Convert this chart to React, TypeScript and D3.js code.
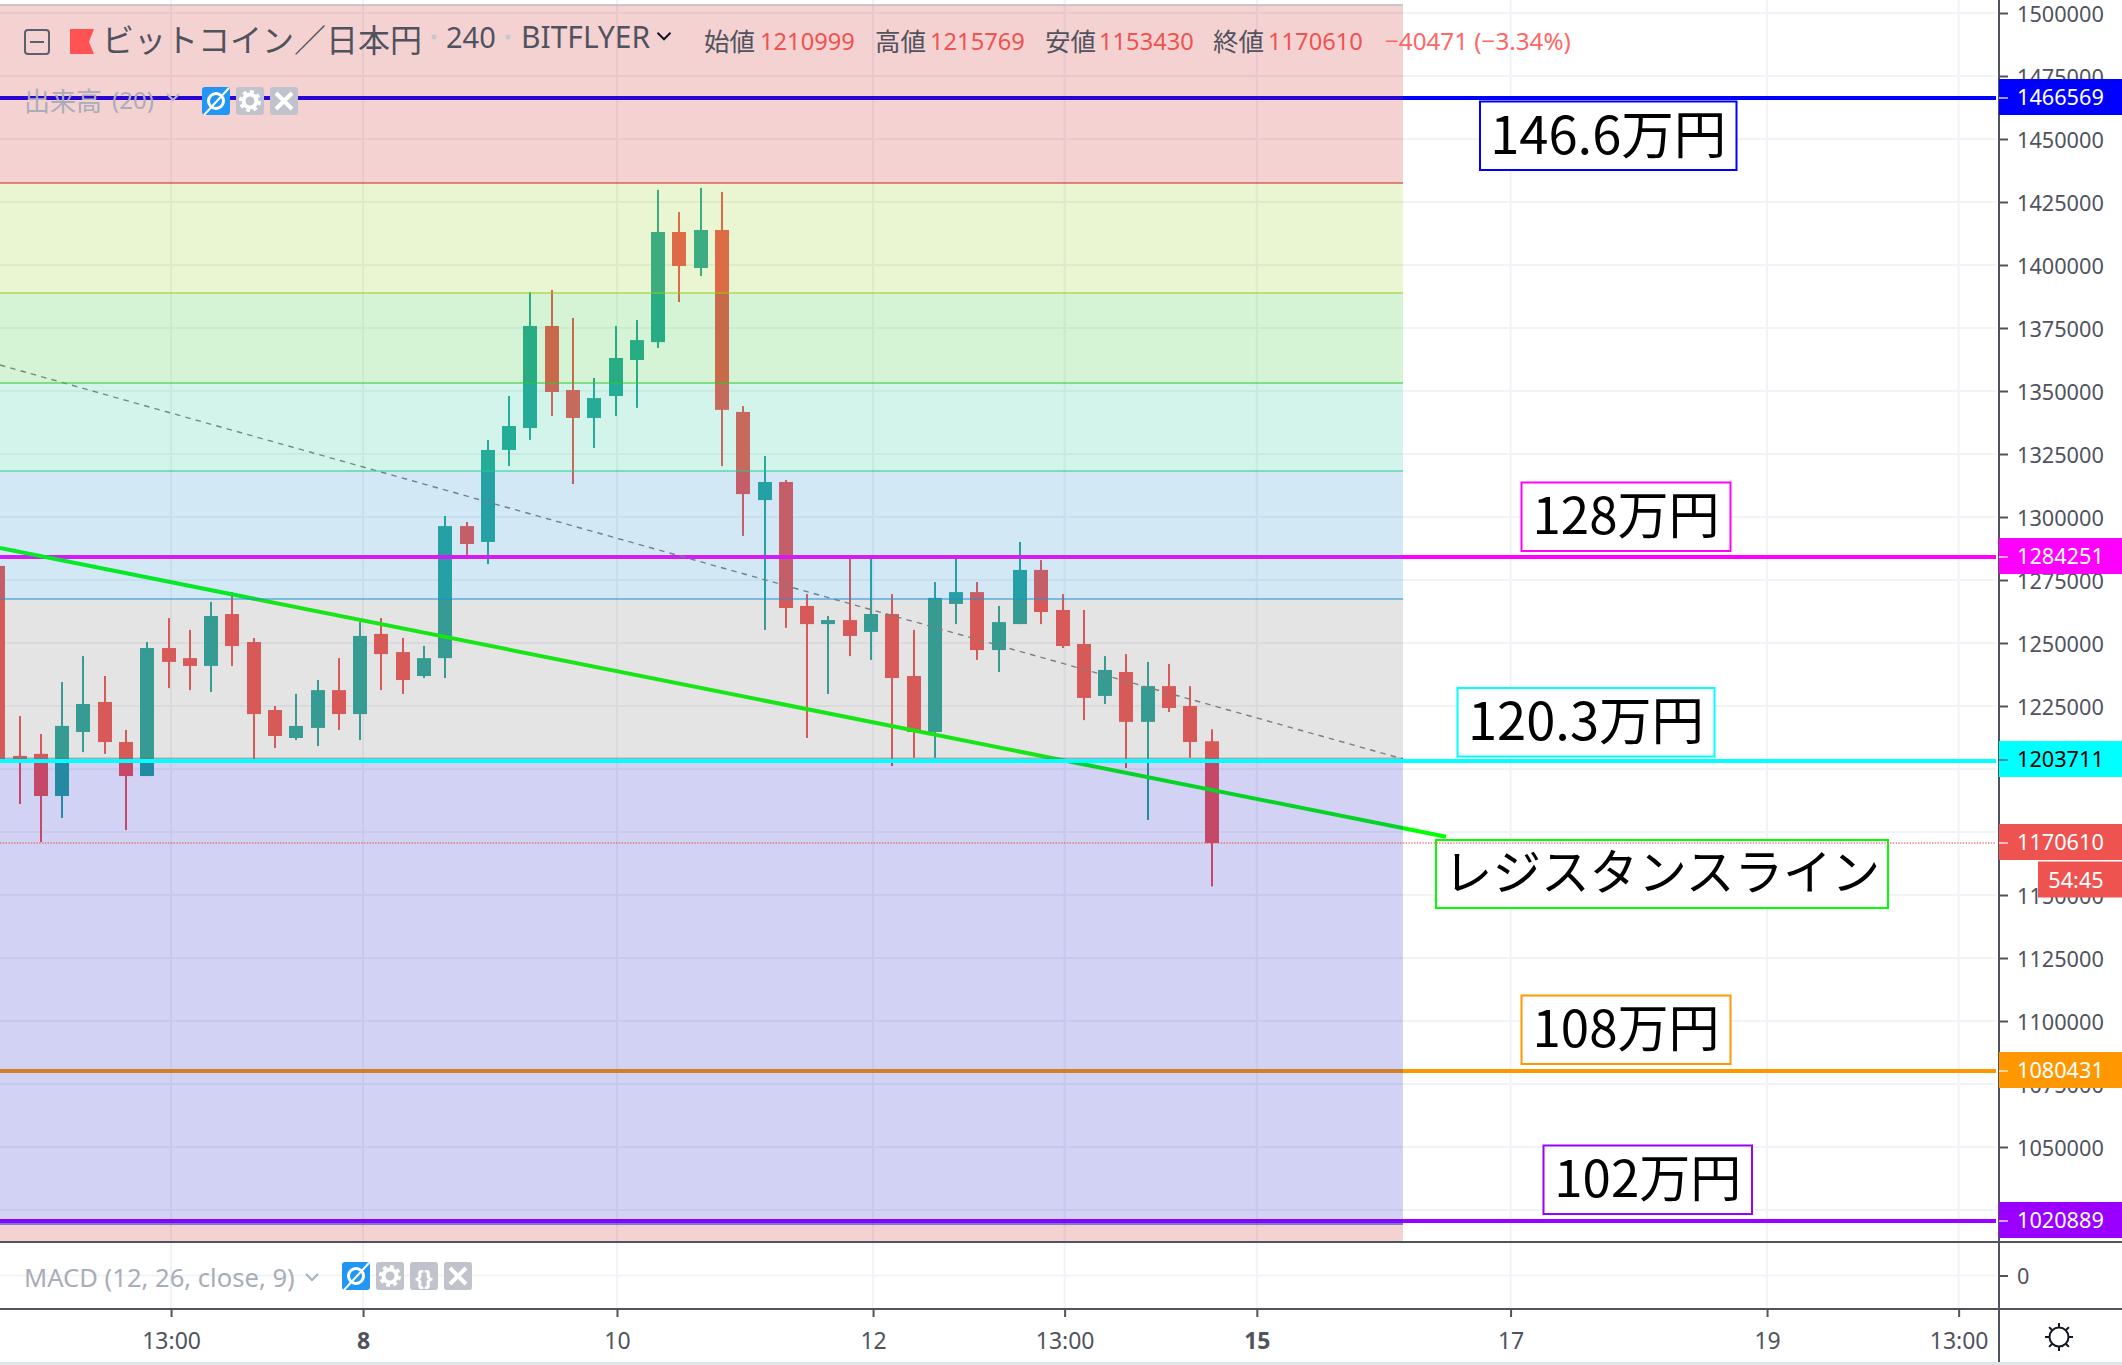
import React, { useRef, useEffect } from "react";
import * as d3 from "d3";

const WIDTH = 2122;
const HEIGHT = 1365;

// 4h candles, first one is cut off by the left edge
const candleOpen = [1280600, 1205200, 1206000, 1189300, 1214700, 1226600, 1210700, 1197200, 1248000, 1244000, 1240900, 1261500, 1250400, 1223400, 1212300, 1216300, 1231300, 1221800, 1253600, 1246400, 1236900, 1244000, 1296400, 1290100, 1326600, 1335300, 1375800, 1350400, 1339300, 1348000, 1362300, 1369400, 1413100, 1398800, 1413900, 1341700, 1306700, 1313900, 1264700, 1257500, 1259100, 1254400, 1261500, 1236900, 1214700, 1265500, 1270200, 1247200, 1257500, 1279000, 1263100, 1249600, 1229000, 1238500, 1218700, 1232900, 1225000, 1210999];
const candleHigh = [1280600, 1221000, 1213900, 1234500, 1244800, 1236900, 1215500, 1250400, 1259900, 1255200, 1266300, 1270200, 1252000, 1225000, 1229800, 1235300, 1244000, 1258300, 1259900, 1252000, 1248800, 1300400, 1298000, 1330600, 1348000, 1389300, 1390100, 1379000, 1355200, 1375800, 1378200, 1429800, 1421000, 1430600, 1429000, 1344000, 1324200, 1314700, 1269400, 1260700, 1284100, 1284100, 1269400, 1255200, 1274200, 1284100, 1274200, 1264700, 1290100, 1282900, 1269400, 1263100, 1244800, 1245600, 1242500, 1241700, 1232900, 1215769];
const candleLow = [1203600, 1186100, 1171000, 1180600, 1206700, 1206000, 1175800, 1197200, 1232100, 1231300, 1230600, 1240900, 1204000, 1208300, 1211500, 1209100, 1215500, 1211500, 1231300, 1229800, 1236100, 1236100, 1284100, 1281300, 1320200, 1330600, 1340100, 1313100, 1327400, 1340100, 1343300, 1367100, 1385300, 1395600, 1320200, 1292500, 1255200, 1256000, 1212300, 1229800, 1244800, 1243300, 1201200, 1204400, 1204400, 1257500, 1243300, 1238500, 1257500, 1257500, 1248000, 1219400, 1225800, 1200400, 1179800, 1222600, 1204400, 1153430];
const candleClose = [1203600, 1203600, 1189300, 1217100, 1225800, 1210700, 1197200, 1248000, 1242500, 1240900, 1260700, 1248800, 1221800, 1213100, 1217100, 1231300, 1221800, 1252800, 1245600, 1235300, 1244000, 1296400, 1289300, 1326600, 1336100, 1375800, 1349600, 1339300, 1347200, 1363100, 1370200, 1413100, 1399600, 1413900, 1342500, 1309100, 1313900, 1263900, 1257500, 1259100, 1252800, 1261500, 1236100, 1214700, 1267900, 1270200, 1247200, 1258300, 1279000, 1262300, 1248800, 1228200, 1239300, 1218700, 1232900, 1224200, 1210700, 1170610];

// fib zones, top to bottom
const zoneEdges = [1503175, 1432540, 1388889, 1353175, 1318254, 1267460, 1204167, 1019437, 1012302];
const zoneColors = ["rgb(205,30,30)", "rgb(150,205,30)", "rgb(45,200,45)", "rgb(35,200,150)", "rgb(35,140,205)", "rgb(120,120,120)", "rgb(30,30,200)", "rgb(205,30,30)"];

const priceTicks = [1500000, 1475000, 1450000, 1425000, 1400000, 1375000, 1350000, 1325000, 1300000, 1275000, 1250000, 1225000, 1200000, 1175000, 1150000, 1125000, 1100000, 1075000, 1050000, 1025000];
// these ones are fully covered by the price tags
const hiddenPriceTicks = [1200000, 1175000, 1025000];

const timeTickBars = [8.12, 17.14, 29.07, 41.1, 50.1, 59.13, 71.05, 83.1, 92.1];
const timeTickLabels = ["13:00", "8", "10", "12", "13:00", "15", "17", "19", "13:00"];
const boldTimeTicks = ["8", "15"];

const levelPrices = [1466569, 1284251, 1203711, 1080431, 1020889];
const levelColors = ["#0000ff", "#ff00ff", "#00ffff", "#ff9800", "#9900ff"];
const lastClose = 1170610;

const trendBars = [0.08, 68.02];
const trendPrices = [1287699, 1173134];
const dashBars = [0.08, 66];
const dashPrices = [1360318, 1203969];

const noteLabels = ["146.6万円", "128万円", "120.3万円", "レジスタンスライン", "108万円", "102万円"];
const noteColors = ["#0000ff", "#ff00ff", "#00ffff", "#00ff00", "#ff9800", "#9900ff"];

const ohlcLabels = ["始値", "高値", "安値", "終値"];
const ohlcValues = ["1210999", "1215769", "1153430", "1170610"];

const LATIN = "'Noto Sans', sans-serif";
const CJK = "'Noto Sans CJK JP', sans-serif";
const TEXT_COLOR = "#50535e";
const AXIS_COLOR = "#50535e";
const GRID_COLOR = "#f0f3f7";
const UP = "#26a69a";
const DOWN = "#ef5350";
const RIGHT_EDGE = 1999;
const LINE_END = 1996;
const ZONE_END = 1403;
const MAIN_BOTTOM = 1242;
const TIME_TOP = 1309;

export default function App() {
  const svgRef = useRef<SVGSVGElement>(null);

  useEffect(() => {
    if (!svgRef.current) return;

    const svg = d3.select(svgRef.current);
    svg.selectAll("*").remove();

    const x = d3.scaleLinear().domain([1, 57]).range([19.5, 1211.5]);
    const y = d3.scaleLinear().domain([1500000, 1050000]).range([13, 1147]);
    const macdY = d3.scaleLinear().domain([1, -1]).range([MAIN_BOTTOM, TIME_TOP]);
    // level lines sit on whole pixels
    const levelY = (price: number) => Math.ceil(y(price)) + (price === 1203711 ? 1 : 0);

    svg.append("rect").attr("width", WIDTH).attr("height", HEIGHT).attr("fill", "#fff");

    // Grid
    const grid = svg.append("g").attr("stroke", GRID_COLOR).attr("stroke-width", 2);
    grid.selectAll("line.h")
      .data(priceTicks)
      .enter()
      .append("line")
      .attr("x1", 0)
      .attr("x2", LINE_END)
      .attr("y1", d => y(d))
      .attr("y2", d => y(d));
    grid.append("line")
      .attr("x1", 0)
      .attr("x2", LINE_END)
      .attr("y1", macdY(0))
      .attr("y2", macdY(0));
    grid.selectAll("line.v")
      .data(timeTickBars)
      .enter()
      .append("line")
      .attr("x1", d => x(d))
      .attr("x2", d => x(d))
      .attr("y1", 0)
      .attr("y2", TIME_TOP);

    // Candles
    const candles = svg.selectAll("g.candle")
      .data(candleOpen.map((open, i) => ({
        bar: i,
        open,
        high: candleHigh[i],
        low: candleLow[i],
        close: candleClose[i]
      })))
      .enter()
      .append("g")
      .attr("class", "candle")
      .attr("fill", d => (d.close >= d.open ? UP : DOWN));
    candles.append("rect")
      .attr("x", d => Math.round(x(d.bar)) - 1)
      .attr("width", 2)
      .attr("y", d => y(d.high))
      .attr("height", d => y(d.low) - y(d.high));
    candles.append("rect")
      .attr("x", d => Math.round(x(d.bar)) - 7)
      .attr("width", 14)
      .attr("y", d => y(Math.max(d.open, d.close)))
      .attr("height", d => Math.max(1, y(Math.min(d.open, d.close)) - y(Math.max(d.open, d.close))));

    // Horizontal levels except the cyan one sit under the zones
    svg.selectAll("line.level")
      .data(levelPrices.filter(d => d !== 1203711))
      .enter()
      .append("line")
      .attr("class", "level")
      .attr("x1", 0)
      .attr("x2", LINE_END)
      .attr("y1", d => levelY(d))
      .attr("y2", d => levelY(d))
      .attr("stroke", d => levelColors[levelPrices.indexOf(d)])
      .attr("stroke-width", 4);

    const trend = d3.line<number>()
      .x((d, i) => x(d))
      .y((d, i) => y(trendPrices[i]));
    svg.append("path")
      .attr("d", trend(trendBars))
      .attr("fill", "none")
      .attr("stroke", "#00ff00")
      .attr("stroke-width", 4);

    const dashed = d3.line<number>()
      .x((d, i) => x(d))
      .y((d, i) => y(dashPrices[i]));
    svg.append("path")
      .attr("d", dashed(dashBars))
      .attr("fill", "none")
      .attr("stroke", "#808080")
      .attr("stroke-width", 1.4)
      .attr("stroke-dasharray", "5.5 5.2");

    // Fib zones laid over everything drawn so far
    const zones = svg.append("g");
    zones.selectAll("rect")
      .data(zoneColors)
      .enter()
      .append("rect")
      .attr("x", 0)
      .attr("width", ZONE_END)
      .attr("y", (d, i) => y(zoneEdges[i]))
      .attr("height", (d, i) => y(zoneEdges[i + 1]) - y(zoneEdges[i]))
      .attr("fill", d => d)
      .attr("fill-opacity", 0.2);
    zones.selectAll("line")
      .data(zoneColors.slice(0, 7))
      .enter()
      .append("line")
      .attr("x1", 0)
      .attr("x2", ZONE_END)
      .attr("y1", (d, i) => y(zoneEdges[i + 1]))
      .attr("y2", (d, i) => y(zoneEdges[i + 1]))
      .attr("stroke", d => d)
      .attr("stroke-opacity", 0.5)
      .attr("stroke-width", 2);
    svg.append("line")
      .attr("x1", 0)
      .attr("x2", ZONE_END)
      .attr("y1", 5)
      .attr("y2", 5)
      .attr("stroke", "#bbb")
      .attr("stroke-width", 1.5);

    svg.append("line")
      .attr("x1", 0)
      .attr("x2", LINE_END)
      .attr("y1", levelY(levelPrices[2]))
      .attr("y2", levelY(levelPrices[2]))
      .attr("stroke", levelColors[2])
      .attr("stroke-width", 4);

    // Note boxes
    const noteBoxes = [
      [1480, 101.5, 256.5, 68.5],
      [1521.5, 482.5, 209, 68.5],
      [1457.5, 688, 257, 68.5],
      [1436, 840, 452, 68],
      [1521.5, 995.5, 209, 68.5],
      [1543.5, 1145.5, 208.5, 68.5]
    ];
    const noteSizes = [52.5, 51, 52.5, 48.6, 51, 51];
    const notes = svg.selectAll("g.note")
      .data(noteLabels)
      .enter()
      .append("g")
      .attr("class", "note");
    notes.append("rect")
      .attr("x", (d, i) => noteBoxes[i][0])
      .attr("y", (d, i) => noteBoxes[i][1])
      .attr("width", (d, i) => noteBoxes[i][2])
      .attr("height", (d, i) => noteBoxes[i][3])
      .attr("fill", "#fff")
      .attr("stroke", (d, i) => noteColors[i])
      .attr("stroke-width", 2);
    notes.append("text")
      .attr("x", (d, i) => noteBoxes[i][0] + noteBoxes[i][2] / 2)
      .attr("y", (d, i) => noteBoxes[i][1] + noteBoxes[i][3] / 2 - 5)
      .attr("text-anchor", "middle")
      .attr("dominant-baseline", "central")
      .style("font-family", CJK)
      .style("font-size", (d, i) => `${noteSizes[i]}px`)
      .attr("fill", "#000")
      .text(d => d);

    // Last price line, dotted
    svg.append("line")
      .attr("x1", 0)
      .attr("x2", LINE_END)
      .attr("y1", y(lastClose))
      .attr("y2", y(lastClose))
      .attr("stroke", DOWN)
      .attr("stroke-opacity", 0.75)
      .attr("stroke-width", 1.4)
      .attr("stroke-dasharray", "1.4 1.4");

    // Price axis
    const priceAxis = svg.append("g")
      .attr("transform", `translate(${RIGHT_EDGE},0)`)
      .call(d3.axisRight(y)
        .tickValues(priceTicks)
        .tickSize(9)
        .tickPadding(9)
        .tickFormat(d => (hiddenPriceTicks.includes(+d) ? "" : d3.format("d")(d))));
    priceAxis.select(".domain").remove();
    const macdAxis = svg.append("g")
      .attr("transform", `translate(${RIGHT_EDGE},0)`)
      .call(d3.axisRight(macdY).tickValues([0]).tickSize(9).tickPadding(9).tickFormat(d3.format("d")));
    macdAxis.select(".domain").remove();
    [priceAxis, macdAxis].forEach(a => {
      a.attr("font-family", null).attr("font-size", null);
      a.selectAll("line").attr("stroke", AXIS_COLOR).attr("stroke-width", 2);
      a.selectAll("text")
        .attr("dy", "0.38em")
        .style("font-family", LATIN)
        .style("font-size", "21.7px")
        .attr("fill", TEXT_COLOR);
    });

    // Time axis
    const timeAxis = svg.append("g")
      .attr("transform", `translate(0,${TIME_TOP})`)
      .call(d3.axisBottom(x)
        .tickValues(timeTickBars)
        .tickSize(8)
        .tickPadding(16)
        .tickFormat((d, i) => timeTickLabels[i]));
    timeAxis.select(".domain").remove();
    timeAxis.attr("font-family", null).attr("font-size", null);
    timeAxis.selectAll("line").attr("stroke", AXIS_COLOR).attr("stroke-width", 2);
    timeAxis.selectAll("text")
      .style("font-family", LATIN)
      .style("font-size", "23px")
      .style("font-weight", (d, i) => (boldTimeTicks.includes(timeTickLabels[i]) ? "700" : "400"))
      .attr("fill", TEXT_COLOR);

    // Pane borders
    const borders = svg.append("g").attr("stroke", AXIS_COLOR).attr("stroke-width", 2);
    borders.append("line").attr("x1", 0).attr("x2", WIDTH).attr("y1", MAIN_BOTTOM).attr("y2", MAIN_BOTTOM);
    borders.append("line").attr("x1", 0).attr("x2", WIDTH).attr("y1", TIME_TOP).attr("y2", TIME_TOP);
    borders.append("line").attr("x1", RIGHT_EDGE).attr("x2", RIGHT_EDGE).attr("y1", 0).attr("y2", 1362);
    svg.append("rect").attr("x", 0).attr("y", 1362).attr("width", WIDTH).attr("height", 3).attr("fill", "#e0e3eb");

    // Price tags
    const tagValues = [...levelPrices, lastClose];
    const tagColors = [...levelColors, "#ef5350"];
    const tags = svg.selectAll("g.tag")
      .data(tagValues)
      .enter()
      .append("g")
      .attr("class", "tag")
      .attr("transform", d => `translate(${RIGHT_EDGE},${d === lastClose ? 842 : Math.ceil(y(d)) - 1})`);
    tags.append("rect")
      .attr("x", 0)
      .attr("y", -18)
      .attr("width", WIDTH - RIGHT_EDGE)
      .attr("height", 36)
      .attr("fill", (d, i) => tagColors[i]);
    tags.append("line")
      .attr("x1", 0)
      .attr("x2", 9)
      .attr("y1", 1)
      .attr("y2", 1)
      .attr("stroke", (d, i) => (i === 2 ? AXIS_COLOR : "#fff"))
      .attr("stroke-opacity", 0.6)
      .attr("stroke-width", 2);
    tags.append("text")
      .attr("x", 18)
      .attr("dy", "0.35em")
      .style("font-family", LATIN)
      .style("font-size", "21.7px")
      .attr("fill", (d, i) => (i === 2 ? "#000" : "#fff"))
      .text(d => d3.format("d")(d));

    svg.append("rect")
      .attr("x", 2038)
      .attr("y", 861.5)
      .attr("width", WIDTH - 2038)
      .attr("height", 36)
      .attr("fill", "#ef5350");
    svg.append("text")
      .attr("x", 2076)
      .attr("y", 880)
      .attr("dy", "0.35em")
      .attr("text-anchor", "middle")
      .style("font-family", LATIN)
      .style("font-size", "21.7px")
      .attr("fill", "#fff")
      .text("54:45");

    // Legend header
    const header = svg.append("g");
    header.append("rect")
      .attr("x", 25)
      .attr("y", 30)
      .attr("width", 24)
      .attr("height", 24)
      .attr("rx", 3)
      .attr("fill", "none")
      .attr("stroke", "#5d606b")
      .attr("stroke-width", 2);
    header.append("line")
      .attr("x1", 30)
      .attr("x2", 44)
      .attr("y1", 42)
      .attr("y2", 42)
      .attr("stroke", "#5d606b")
      .attr("stroke-width", 2);
    header.append("path").attr("d", "M70,29H94L89,42L94,54H70Z").attr("fill", "#ff5252");

    const addText = (
      label: string,
      px: number,
      py: number,
      size: number,
      color: string,
      family: string
    ) =>
      header.append("text")
        .attr("x", px)
        .attr("y", py)
        .attr("dominant-baseline", "central")
        .style("font-family", family)
        .style("font-size", `${size}px`)
        .attr("fill", color)
        .text(label);

    addText("ビットコイン／日本円", 102, 38, 32, TEXT_COLOR, CJK);
    addText("240", 446, 36, 29, TEXT_COLOR, LATIN);
    addText("BITFLYER", 521, 36, 30, TEXT_COLOR, LATIN);
    header.selectAll("circle.dot")
      .data([434, 508])
      .enter()
      .append("circle")
      .attr("cx", d => d)
      .attr("cy", 37)
      .attr("r", 2.5)
      .attr("fill", "#c4c8d2");

    const chevron = (cx: number, cy: number, color: string, half: number) =>
      header.append("path")
        .attr("d", `M${cx - half},${cy - half / 2}L${cx},${cy + half / 2}L${cx + half},${cy - half / 2}`)
        .attr("fill", "none")
        .attr("stroke", color)
        .attr("stroke-width", 2);
    chevron(664, 36, "#131722", 6.5);

    const labelX = [704, 875, 1045, 1213];
    const valueX = [760, 930, 1099, 1268];
    ohlcLabels.forEach((label, i) => {
      addText(label, labelX[i], 39.5, 25.5, TEXT_COLOR, CJK);
      addText(ohlcValues[i], valueX[i], 40.5, 23.7, DOWN, LATIN);
    });
    addText("−40471 (−3.34%)", 1385, 40.5, 24.2, "#f66", LATIN);

    addText("出来高", 24, 99, 26, "#a9adb8", CJK);
    addText("(20)", 112, 99, 24, "#a9adb8", LATIN);
    chevron(173, 97, "#b4b8c2", 6);
    addText("MACD (12, 26, close, 9)", 24, 1277, 25.6, "#a9adb8", LATIN);
    chevron(312, 1277, "#a9adb8", 6);

    // Little buttons beside the study names
    const iconButton = (px: number, py: number, kind: string) => {
      const g = header.append("g").attr("transform", `translate(${px},${py})`);
      g.append("rect")
        .attr("width", 28)
        .attr("height", 28)
        .attr("rx", 3)
        .attr("fill", kind === "eye" ? "#2196f3" : "#c0c3cc");
      if (kind === "eye") {
        g.append("circle").attr("cx", 14).attr("cy", 14).attr("r", 7.5).attr("fill", "none").attr("stroke", "#fff").attr("stroke-width", 3);
        g.append("line").attr("x1", 2).attr("y1", 28).attr("x2", 27).attr("y2", 1).attr("stroke", "#fff").attr("stroke-width", 2);
      } else if (kind === "gear") {
        g.append("circle").attr("cx", 14).attr("cy", 14).attr("r", 6.5).attr("fill", "none").attr("stroke", "#fff").attr("stroke-width", 4);
        g.append("circle").attr("cx", 14).attr("cy", 14).attr("r", 9.5).attr("fill", "none").attr("stroke", "#fff").attr("stroke-width", 3).attr("stroke-dasharray", "4 3.4");
      } else if (kind === "code") {
        g.append("text")
          .attr("x", 14)
          .attr("y", 14)
          .attr("text-anchor", "middle")
          .attr("dominant-baseline", "central")
          .style("font-family", LATIN)
          .style("font-size", "22px")
          .style("font-weight", "700")
          .attr("fill", "#fff")
          .text("{}");
      } else {
        g.append("path").attr("d", "M6,6L22,22M22,6L6,22").attr("stroke", "#fff").attr("stroke-width", 4).attr("fill", "none");
      }
    };
    iconButton(202, 87, "eye");
    iconButton(236, 87, "gear");
    iconButton(270, 87, "close");
    iconButton(342, 1262, "eye");
    iconButton(376, 1262, "gear");
    iconButton(410, 1262, "code");
    iconButton(444, 1262, "close");

    // Sun icon in the corner
    const sun = svg.append("g").attr("transform", "translate(2059,1337)").attr("stroke", "#131722").attr("stroke-width", 2).attr("fill", "none");
    sun.append("circle").attr("r", 9.5);
    sun.selectAll("line")
      .data(d3.range(8))
      .enter()
      .append("line")
      .attr("x1", d => 10 * Math.cos((d * Math.PI) / 4))
      .attr("y1", d => 10 * Math.sin((d * Math.PI) / 4))
      .attr("x2", d => 14 * Math.cos((d * Math.PI) / 4))
      .attr("y2", d => 14 * Math.sin((d * Math.PI) / 4));
  }, []);

  return (
    <svg
      ref={svgRef}
      width={WIDTH}
      height={HEIGHT}
      style={{ position: "absolute", left: 0, top: 0, display: "block" }}
    />
  );
}
